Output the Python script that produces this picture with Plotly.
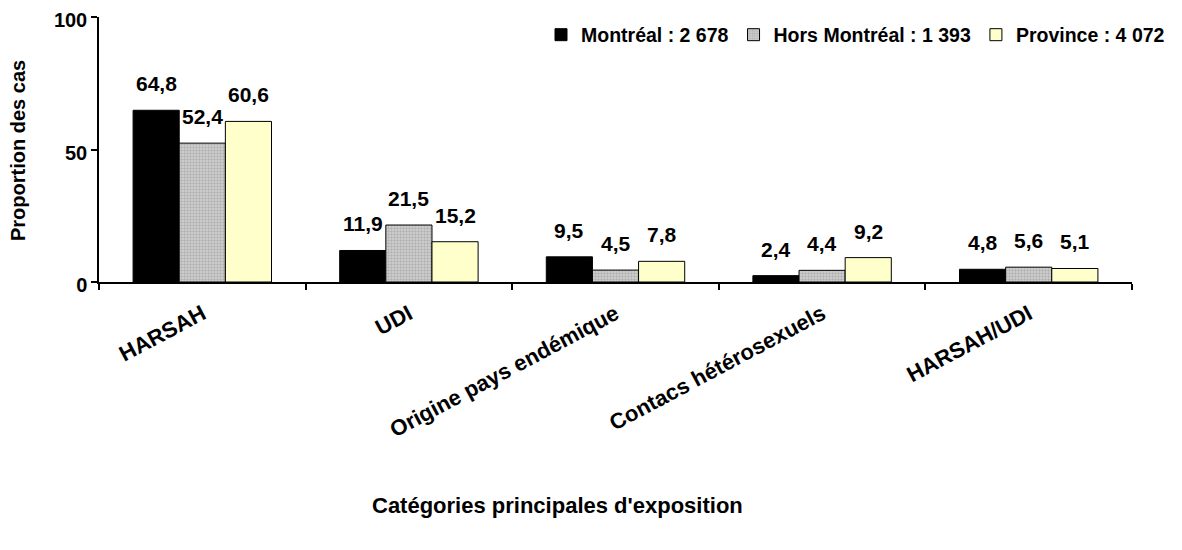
import plotly.graph_objects as go

categories = ["HARSAH", "UDI", "Origine pays endémique", "Contacs hétérosexuels", "HARSAH/UDI"]
series_names = ["Montréal : 2 678", "Hors Montréal : 1 393", "Province : 4 072"]
montreal = [64.8, 11.9, 9.5, 2.4, 4.8]
hors_montreal = [52.4, 21.5, 4.5, 4.4, 5.6]
province = [60.6, 15.2, 7.8, 9.2, 5.1]
y_ticks = [0, 50, 100]

W, H = 1182, 550
OFF = 8  # page body margin
ML, MT = 99 - OFF, 17 - OFF
MR = W - (1132 - OFF)
MB = H - (282 - OFF)
BARGAP = 0.33
FONT = "Liberation Sans, Arial, sans-serif"

plot_w = W - ML - MR
plot_h = H - MT - MB


def paper_x(px):
    return (px - OFF - ML) / plot_w


def paper_y(py):
    return (H - MB - (py - OFF)) / plot_h


fig = go.Figure()
series = [montreal, hors_montreal, province]
styles = [
    dict(color="#000000", line=dict(color="#000000", width=1)),
    dict(color="#C4C4C4", line=dict(color="#000000", width=1),
         pattern=dict(shape=".", size=3, solidity=0.5, fgcolor="#8C8C8C", bgcolor="#D4D4D4")),
    dict(color="#FFFFCC", line=dict(color="#000000", width=1)),
]
for name, vals, mk in zip(series_names, series, styles):
    fig.add_trace(go.Bar(x=categories, y=vals, name=name, marker=mk))

# value labels above bars
bar_w = plot_w / len(categories) * (1 - BARGAP) / len(series)
for si, vals in enumerate(series):
    for cat, v in zip(categories, vals):
        fig.add_annotation(
            x=cat, y=v, xref="x", yref="y",
            text=f"{v:.1f}".replace(".", ","),
            showarrow=False, yanchor="bottom", yshift=13,
            xshift=(si - 1) * bar_w,
            font=dict(family=FONT, size=21, color="#000000"),
        )

fig.add_annotation(
    x=paper_x(557), y=paper_y(505), xref="paper", yref="paper",
    xanchor="center", yanchor="middle",
    text="<b>Catégories principales d'exposition</b>",
    showarrow=False, font=dict(family=FONT, size=22, color="#000000"),
)
fig.add_annotation(
    x=paper_x(18), y=paper_y(151), xref="paper", yref="paper",
    xanchor="center", yanchor="middle",
    text="<b>Proportion des cas</b>", textangle=-90, showarrow=False,
    font=dict(family=FONT, size=20, color="#000000"),
)

fig.update_layout(
    width=W, height=H,
    margin=dict(l=ML, r=MR, t=MT, b=MB, autoexpand=False),
    paper_bgcolor="white", plot_bgcolor="white",
    barmode="group", bargap=BARGAP, bargroupgap=0,
    font=dict(family=FONT, size=20, color="#000000", weight="bold"),
    showlegend=True,
    legend=dict(orientation="h", xref="container", yref="container",
                x=(1170 - OFF) / W, xanchor="right", y=1 - (35 - OFF) / H, yanchor="middle",
                font=dict(family=FONT, size=19.5, color="#000000", weight="bold"),
                itemwidth=30, tracegroupgap=0, bgcolor="rgba(0,0,0,0)"),
    xaxis=dict(showline=True, linecolor="#000000", linewidth=1.5, ticks="outside",
               tickson="boundaries", ticklen=6, tickwidth=1.5, tickcolor="#000000",
               tickangle=-28, ticklabelstandoff=9, showgrid=False, automargin=False,
               ticklabeloverflow="allow",
               tickfont=dict(family=FONT, size=22, color="#000000", weight="bold")),
    yaxis=dict(range=[0, 100], tickvals=y_ticks, showline=True, linecolor="#000000",
               linewidth=1.5, ticks="outside", ticklen=6, tickwidth=1.5, tickcolor="#000000",
               showgrid=False, zeroline=False, automargin=False,
               ticklabeloverflow="allow", ticklabelshift=3,
               tickfont=dict(family=FONT, size=20, color="#000000", weight="bold")),
)

fig.write_html("out.html")
